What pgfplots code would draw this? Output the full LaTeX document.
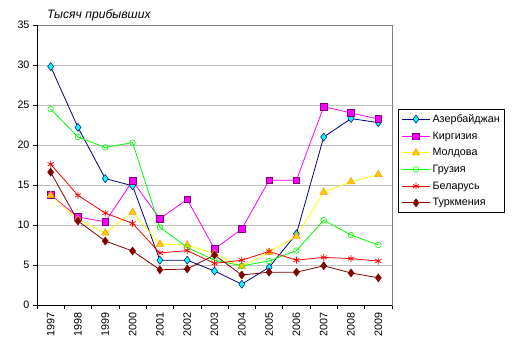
\documentclass[border=0pt]{standalone}
\usepackage{fontspec}
\setmainfont{Liberation Sans}
\usepackage{pgfplots}
\pgfplotsset{compat=1.18}
\definecolor{azline}{RGB}{0,0,128}
\definecolor{azfill}{RGB}{0,255,255}
\definecolor{kgline}{RGB}{255,0,255}
\definecolor{kgdraw}{RGB}{128,0,128}
\definecolor{mdline}{RGB}{255,255,0}
\definecolor{mdfill}{RGB}{255,204,0}
\definecolor{mddraw}{RGB}{255,153,0}
\definecolor{geline}{RGB}{0,255,0}
\definecolor{byline}{RGB}{255,0,0}
\definecolor{tmline}{RGB}{128,0,0}
\definecolor{gridc}{RGB}{192,192,192}
\definecolor{framec}{RGB}{128,128,128}
\begin{document}
\begin{tikzpicture}[font=\fontsize{10.8}{13}\selectfont]
\useasboundingbox (-37bp,-51bp) rectangle (480bp,305bp);
\begin{axis}[
  at={(0,0)}, anchor=south west,
  scale only axis, width=355bp, height=280bp,
  xmin=-0.5, xmax=12.5, ymin=0, ymax=35,
  ytick={0,5,...,35},
  xtick={0,...,12},
  xticklabels={1997,1998,1999,2000,2001,2002,2003,2004,2005,2006,2007,2008,2009},
  minor xtick={-0.5,0.5,...,12.5},
  x tick label style={rotate=90, anchor=east},
  /pgf/number format/assume math mode=true,
  tick align=outside,
  xtick pos=bottom, ytick pos=left,
  major x tick style={draw=none},
  major tick length=4bp, minor tick length=4bp,
  tick style={black, line width=0.6pt},
  ymajorgrids, grid style={gridc, line width=0.8pt},
  axis line style={framec, line width=0.8pt},
  title={Тысяч прибывших},
  title style={at={(rel axis cs:0,1)}, anchor=south west, xshift=10bp, yshift=-2bp, inner sep=0pt, font=\fontsize{12.2}{14}\selectfont\itshape},
  legend style={at={(1.017,0.7)}, anchor=north west, draw=black, line width=0.8pt,
    font=\fontsize{10.8}{13}\selectfont, row sep=3.8bp, inner xsep=3bp, inner ysep=3bp},
  legend cell align=left,
  legend image code/.code={\draw[mark repeat=2,mark phase=2,line width=0.8pt] plot coordinates {(0cm,0cm) (0.5cm,0cm) (1.0cm,0cm)};},
  every axis plot/.append style={line width=0.8pt},
]
\draw[black, line width=0.8pt] (rel axis cs:0,1) -- (rel axis cs:0,0) -- (rel axis cs:1,0);

\addplot[color=azline, mark=diamond*, mark size=4bp, mark options={fill=azfill, draw=azline, line width=0.5pt}]
 coordinates {(0,29.8) (1,22.2) (2,15.8) (3,14.9) (4,5.6) (5,5.6) (6,4.25) (7,2.6) (8,4.7) (9,8.9) (10,21.0) (11,23.3) (12,22.8)};
\addlegendentry{Азербайджан}
\addplot[color=kgline, mark=square*, mark size=3.3bp, mark options={fill=kgline, draw=kgdraw, line width=0.6pt}]
 coordinates {(0,13.75) (1,11.0) (2,10.4) (3,15.5) (4,10.8) (5,13.2) (6,7.0) (7,9.5) (8,15.6) (9,15.6) (10,24.8) (11,24.0) (12,23.25)};
\addlegendentry{Киргизия}
\addplot[color=mdline, mark=triangle*, mark size=4.2bp, mark options={fill=mdfill, draw=mddraw, line width=0.6pt}]
 coordinates {(0,13.7) (1,10.7) (2,9.0) (3,11.6) (4,7.6) (5,7.5) (6,6.4) (7,4.8) (8,6.6) (9,8.6) (10,14.1) (11,15.4) (12,16.3)};
\addlegendentry{Молдова}
\addplot[color=geline, mark=o, mark size=2.8bp, mark options={fill=white, draw=geline, line width=0.6pt}]
 coordinates {(0,24.5) (1,21.0) (2,19.7) (3,20.3) (4,9.7) (5,7.2) (6,5.6) (7,4.9) (8,5.5) (9,6.8) (10,10.6) (11,8.75) (12,7.5)};
\addlegendentry{Грузия}
\addplot[color=byline, mark=asterisk, mark size=3.5bp, mark options={draw=byline, line width=0.7pt}]
 coordinates {(0,17.6) (1,13.7) (2,11.5) (3,10.2) (4,6.5) (5,6.8) (6,5.2) (7,5.6) (8,6.7) (9,5.6) (10,5.95) (11,5.8) (12,5.5)};
\addlegendentry{Беларусь}
\addplot[color=tmline, mark=diamond*, mark size=4bp, mark options={fill=tmline, draw=tmline, line width=0.5pt}]
 coordinates {(0,16.6) (1,10.5) (2,8.0) (3,6.75) (4,4.4) (5,4.5) (6,6.25) (7,3.75) (8,4.1) (9,4.1) (10,4.9) (11,4.0) (12,3.4)};
\addlegendentry{Туркмения}
\end{axis}
\end{tikzpicture}
\end{document}
